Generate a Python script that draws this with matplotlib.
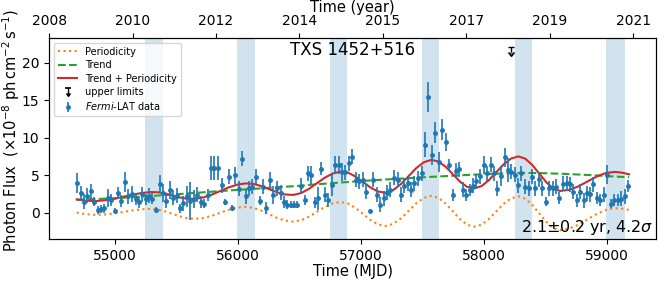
import matplotlib
matplotlib.use("Agg")
import matplotlib.pyplot as plt
import matplotlib.lines as mlines
from matplotlib.legend_handler import HandlerBase
import numpy as np

# Fermi-LAT light curve (MJD, flux in 1e-8 ph cm^-2 s^-1, 1-sigma error)
lc_mjd = [54690, 54722, 54749, 54776, 54803, 54830, 54860, 54887, 54913, 54946,
          54973, 55000, 55027, 55054, 55081, 55111, 55138, 55170, 55197, 55224,
          55251, 55278, 55305, 55335, 55364, 55391, 55418, 55445, 55477, 55504,
          55531, 55558, 55585, 55615, 55645, 55672, 55698, 55728, 55755, 55782,
          55809, 55836, 55868, 55896, 55925, 55952, 55979, 56008, 56036, 56065,
          56092, 56119, 56146, 56179, 56206, 56232, 56260, 56290, 56316, 56349,
          56376, 56402, 56430, 56457, 56483, 56510, 56543, 56569, 56596, 56624,
          56651, 56677, 56705, 56734, 56766, 56794, 56820, 56847, 56874, 56901,
          56928, 56960, 56987, 57015, 57044, 57071, 57101, 57130, 57158, 57185,
          57212, 57239, 57272, 57299, 57326, 57353, 57382, 57408, 57435, 57462,
          57494, 57522, 57548, 57578, 57605, 57632, 57662, 57689, 57719, 57746,
          57773, 57800, 57832, 57859, 57887, 57913, 57940, 57967, 58002, 58029,
          58056, 58083, 58110, 58137, 58169, 58196, 58223, 58250, 58277, 58304,
          58336, 58364, 58390, 58417, 58447, 58474, 58506, 58533, 58560, 58587,
          58614, 58647, 58673, 58700, 58727, 58754, 58781, 58811, 58835, 58862,
          58889, 58921, 58948, 58975, 59005, 59035, 59062, 59089, 59116, 59148,
          59175]
lc_flux = [3.96, 2.6, 1.5, 2.3, 2.9, 1.5, 0.4, 0.5, 0.6, 1.95,
           1.7, 0.3, 2.7, 1.6, 4.1, 2.2, 2.5, 1.8, 1.4, 2.5,
           1.8, 2.3, 1.9, 0.4, 3.8, 2.6, 1.6, 3.1, 2.0, 2.3,
           0.6, 1.3, 2.2, 1.6, 1.8, 2.4, 1.5, 1.2, 2.4, 6.0,
           6.0, 6.0, 3.7, 1.4, 4.8, 0.7, 5.0, 3.2, 7.2, 2.2,
           3.3, 3.5, 4.8, 1.6, 3.5, 0.6, 4.4, 2.4, 3.3, 2.7,
           1.5, 1.1, 1.1, 1.1, 1.1, 3.6, 1.7, 5.3, 5.1, 1.4,
           1.95, 5.9, 2.4, 1.7, 3.7, 6.4, 6.4, 5.5, 5.4, 6.6,
           7.5, 4.4, 4.2, 4.4, 2.8, 0.27, 4.4, 2.4, 1.07, 1.95,
           2.7, 3.1, 4.7, 4.4, 2.4, 3.6, 3.96, 3.1, 3.96, 4.6,
           5.3, 9.1, 15.5, 7.7, 10.7, 6.8, 11.1, 9.4, 6.4, 2.4,
           5.6, 5.8, 3.1, 2.4, 3.1, 3.6, 4.2, 4.9, 6.4, 5.3,
           6.4, 5.3, 3.2, 4.9, 7.4, 5.7, 5.5, 5.1, 3.7, 5.3,
           3.5, 3.3, 4.8, 3.3, 4.5, 3.3, 1.5, 3.3, 3.3, 3.5,
           1.95, 3.9, 3.96, 3.8, 2.8, 1.65, 2.8, 1.7, 2.6, 2.5,
           3.8, 1.95, 1.7, 2.4, 5.1, 1.2, 1.7, 1.7, 1.9, 2.2,
           3.6]
lc_err = [1.3, 1.0, 1.0, 1.0, 1.0, 0.6, 0.5, 0.5, 0.6, 1.2,
          0.8, 0.3, 0.8, 0.8, 1.3, 1.0, 1.1, 0.8, 0.7, 1.0,
          0.7, 1.0, 0.7, 0.4, 1.2, 1.2, 0.9, 1.2, 1.0, 1.0,
          0.6, 1.0, 1.4, 2.5, 1.2, 1.0, 0.8, 0.6, 0.8, 1.6,
          1.6, 1.6, 1.0, 0.4, 1.0, 0.4, 1.1, 1.0, 1.0, 1.0,
          1.0, 1.0, 1.0, 0.6, 1.0, 0.8, 1.0, 1.2, 1.0, 1.0,
          0.8, 0.6, 0.5, 0.5, 0.5, 1.0, 0.7, 1.0, 1.2, 0.7,
          1.5, 0.9, 1.0, 0.9, 1.5, 1.2, 1.2, 1.2, 1.0, 1.0,
          1.0, 1.0, 1.0, 1.0, 1.0, 0.3, 1.0, 1.0, 1.0, 1.0,
          1.0, 1.0, 1.0, 1.0, 1.0, 1.0, 1.0, 1.0, 1.0, 1.0,
          1.0, 1.7, 2.0, 1.3, 1.4, 1.3, 1.4, 1.2, 0.8, 0.8,
          1.0, 1.0, 1.0, 0.8, 0.8, 1.0, 1.0, 1.0, 1.2, 1.0,
          1.0, 1.0, 1.0, 1.3, 1.3, 1.6, 1.0, 1.0, 1.0, 1.0,
          1.0, 1.0, 1.0, 1.0, 1.0, 1.0, 0.6, 1.0, 1.0, 1.0,
          0.8, 1.0, 1.0, 1.0, 1.0, 0.8, 1.0, 1.0, 1.0, 1.0,
          1.0, 0.8, 0.8, 1.0, 1.3, 0.6, 0.8, 0.8, 1.0, 1.0,
          0.8]

# upper limit
ul_mjd = [58218]
ul_flux = [22.1]

# model curves
model_mjd = [54690, 54770, 54850, 54923, 54997, 55070, 55143, 55217, 55290, 55350,
             55410, 55470, 55530, 55590, 55650, 55718, 55787, 55855, 55923, 55992,
             56060, 56125, 56190, 56255, 56320, 56385, 56450, 56514, 56579, 56643,
             56707, 56772, 56836, 56897, 56957, 57018, 57079, 57139, 57200, 57262,
             57325, 57388, 57450, 57512, 57575, 57632, 57690, 57748, 57805, 57862,
             57920, 57980, 58040, 58100, 58160, 58220, 58280, 58337, 58393, 58450,
             58507, 58563, 58620, 58695, 58770, 58845, 58920, 58995, 59070, 59125,
             59180]
periodicity = [0.04, -0.18, -0.27, -0.22, -0.07, 0.13, 0.33, 0.48, 0.53, 0.44,
               0.20, -0.14, -0.47, -0.71, -0.80, -0.69, -0.40, 0.00, 0.40, 0.69,
               0.80, 0.67, 0.31, -0.18, -0.67, -1.03, -1.16, -0.99, -0.51, 0.15,
               0.80, 1.28, 1.45, 1.24, 0.65, -0.15, -0.95, -1.54, -1.75, -1.48,
               -0.75, 0.26, 1.27, 2.00, 2.27, 1.99, 1.24, 0.21, -0.82, -1.57,
               -1.85, -1.58, -0.84, 0.18, 1.19, 1.93, 2.20, 1.90, 1.08, -0.05,
               -1.18, -2.00, -2.30, -2.10, -1.57, -0.84, -0.11, 0.42, 0.62, 0.55,
               0.40]
trend = [1.75, 1.80, 1.85, 1.90, 1.95, 2.02, 2.09, 2.17, 2.24, 2.31,
         2.38, 2.45, 2.52, 2.59, 2.66, 2.74, 2.82, 2.90, 2.98, 3.06,
         3.13, 3.20, 3.27, 3.34, 3.41, 3.48, 3.55, 3.63, 3.72, 3.81,
         3.89, 3.97, 4.05, 4.12, 4.19, 4.26, 4.33, 4.39, 4.45, 4.51,
         4.57, 4.63, 4.69, 4.75, 4.80, 4.85, 4.90, 4.95, 5.00, 5.05,
         5.10, 5.14, 5.18, 5.22, 5.26, 5.30, 5.33, 5.33, 5.32, 5.30,
         5.28, 5.25, 5.22, 5.17, 5.11, 5.05, 4.98, 4.91, 4.84, 4.80,
         4.75]

# high-state windows predicted by the period
band_start = [55243, 55995, 56748, 57500, 58252, 58997]
band_end = [55388, 56141, 56885, 57638, 58390, 59150]

year_ticks = ["2008", "2010", "2012", "2014", "2015", "2017", "2019", "2021"]

total = np.array(trend) + np.array(periodicity)


class UpperLimitHandler(HandlerBase):
    # legend symbol: bar on top, arrow pointing down
    def create_artists(self, legend, orig_handle, xdescent, ydescent,
                       width, height, fontsize, trans):
        xc = width / 2 - xdescent
        ytop = height - ydescent
        ybot = -ydescent + 1.5
        stem = mlines.Line2D([xc, xc], [ybot, ytop], color="k", lw=1,
                             transform=trans)
        cap = mlines.Line2D([xc], [ytop], marker="_", ms=4, mew=1.2,
                            color="k", transform=trans)
        head = mlines.Line2D([xc], [ybot], marker=mlines.CARETDOWNBASE, ms=3,
                             color="k", transform=trans)
        return [stem, cap, head]


fig = plt.figure(figsize=(6.64, 2.82), dpi=100)
ax = fig.add_axes([0.074, 0.152, 0.914, 0.713])

for s, e in zip(band_start, band_end):
    ax.axvspan(s, e, color="C0", alpha=0.2, lw=0)

l1, = ax.plot(model_mjd, periodicity, ":", color="C1", lw=1.5, label="Periodicity")
l2, = ax.plot(model_mjd, trend, "--", color="C2", lw=1.5, label="Trend")
l3, = ax.plot(model_mjd, total, "-", color="C3", lw=1.5, label="Trend + Periodicity")
ax.errorbar(ul_mjd, ul_flux, yerr=0.6, uplims=True, fmt="none", ecolor="k",
            capsize=2, elinewidth=1)
eb = ax.errorbar(lc_mjd, lc_flux, yerr=lc_err, fmt="o", color="C0", ms=2.5,
                 elinewidth=1.2, capsize=0)
ul_proxy = mlines.Line2D([], [], color="k")

ax.set_xlim(54466, 59400)
ax.set_ylim(-3.5, 23.3)
ax.set_xticks([55000, 56000, 57000, 58000, 59000])
ax.set_yticks([0, 5, 10, 15, 20])
ax.tick_params(labelsize=10)
ax.set_xlabel("Time (MJD)", fontsize=10.5, labelpad=1)
ax.set_ylabel(r"Photon Flux  $(\times10^{-8}\ \rm ph\,cm^{-2}\,s^{-1})$",
              fontsize=10.5)
ax.yaxis.set_label_coords(-0.045, 0.54)

ax.text(0.5, 0.985, "TXS 1452+516", transform=ax.transAxes, ha="center",
        va="top", fontsize=12)
ax.text(0.995, 0.01, r"2.1$\pm$0.2 yr, 4.2$\sigma$", transform=ax.transAxes,
        ha="right", va="bottom", fontsize=11.5)

ax.legend([l1, l2, l3, ul_proxy, eb],
          ["Periodicity", "Trend", "Trend + Periodicity", "upper limits",
           r"$\it{Fermi}$-LAT data"],
          handler_map={ul_proxy: UpperLimitHandler()},
          loc="upper left", fontsize=7, labelspacing=0.35, framealpha=0.8)

top = ax.twiny()
top.set_xlim(ax.get_xlim())
top.set_xticks(np.linspace(54466, 59215, len(year_ticks)))
top.set_xticklabels(year_ticks)
top.tick_params(labelsize=10)
top.set_xlabel("Time (year)", fontsize=10.5, labelpad=2)

fig.savefig("out.png", dpi=100)
